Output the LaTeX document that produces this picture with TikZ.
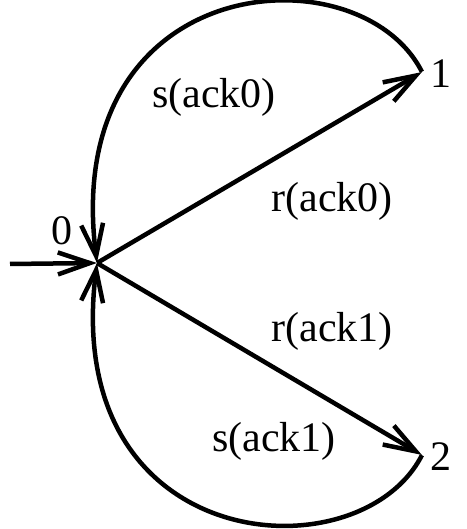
\documentclass[tikz,border=0pt]{standalone}
\usepackage{fontspec}
\setmainfont{Liberation Serif}
\usetikzlibrary{arrows.meta, positioning}

\begin{document}
\begin{tikzpicture}[
  x=1pt, y=1pt,
  font=\fontsize{42}{46}\selectfont,
  >={Straight Barb[length=32pt, width=22pt, line width=4.5pt]},
  state/.style={inner sep=0pt, minimum size=0pt},
  arr/.style={->, line width=4.5pt},
  lbl/.style={inner sep=1pt},
]
\useasboundingbox (0,0) rectangle (466,529);

%% States
\node[state] (q0) at (97,266) {};
\node[state] (q1) at (422,457) {};
\node[state] (q2) at (422,74) {};
\coordinate (init) at (10,265);

%% State labels
\node[lbl] (n0) at (62,298) {0};
\node[lbl] (n1) at (441,455) {1};
\node[lbl] (n2) at (441,72) {2};

%% Transitions
\draw[arr] (init) -- (q0);
\draw[arr] (q0) -- (q1);
\draw[arr] (q0) -- (q2);
\draw[arr] (q1) .. controls (360,580) and (60,560) .. (q0);
\draw[arr] (q2) .. controls (360,-48) and (60,-28) .. (q0);

%% Transition labels
\node[lbl] (s0) at (214,432) {s(ack0)};
\node[lbl] (r0) at (332,328) {r(ack0)};
\node[lbl] (r1) at (332,198) {r(ack1)};
\node[lbl] (s1) at (274,88) {s(ack1)};

\end{tikzpicture}
\end{document}
